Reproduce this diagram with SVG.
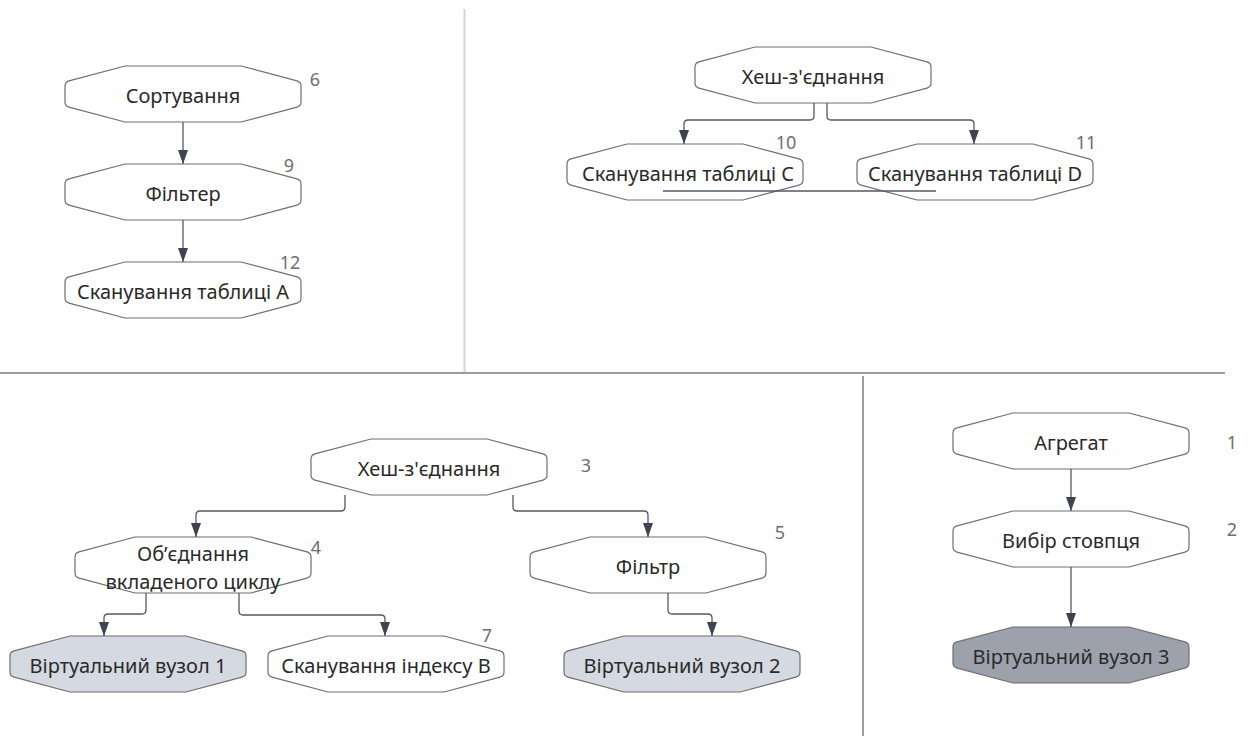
<svg xmlns="http://www.w3.org/2000/svg" width="1250" height="736" viewBox="0 0 1250 736">
  <style>
    .node { fill: #ffffff; stroke: #6f6f6f; stroke-width: 1.2; }
    .virt { fill: #d5d9e1; stroke: #6f6f6f; stroke-width: 1.2; }
    .virt-dark { fill: #9ca1ab; stroke: #6f6f6f; stroke-width: 1.2; }
    .label { font-family: "Noto Sans", "Open Sans", sans-serif; font-size: 20px; fill: #2a2a2a; text-anchor: middle; dominant-baseline: central; }
    .num { font-family: "Noto Sans", "Open Sans", sans-serif; font-size: 18px; fill: #6e6e6e; text-anchor: middle; dominant-baseline: central; }
    .edge { fill: none; stroke: #555a62; stroke-width: 1.3; marker-end: url(#arrow); }
    .plain { fill: none; stroke: #555a62; stroke-width: 1.3; }
    .divider-light { stroke: #d4d4d4; stroke-width: 2; }
    .divider { stroke: #9c9c9c; stroke-width: 2; }
  </style>
  <defs>
    <!-- elongated octagon used for every operator node (236 x 56) -->
    <path id="oct" d="M60,0 L176,0 L232,14.9 Q236,16 236,20 L236,36 Q236,40 232,41.1 L176,56 L60,56 L4,41.1 Q0,40 0,36 L0,20 Q0,16 4,14.9 Z"/>
    <marker id="arrow" markerUnits="userSpaceOnUse" viewBox="0 0 14 10" refX="14" refY="5" markerWidth="14" markerHeight="10" orient="auto">
      <path d="M0,0 L14,5 L0,10 Z" fill="#3d434f"/>
    </marker>
  </defs>

  <!-- panel dividers -->
  <g id="dividers">
    <line class="divider-light" x1="464.5" y1="9" x2="464.5" y2="372"/>
    <line class="divider" x1="0" y1="373" x2="1225" y2="373"/>
    <line class="divider" x1="863" y1="376" x2="863" y2="736"/>
  </g>

  <!-- plan 1 -->
  <g id="n-sort">
    <use href="#oct" class="node" x="65" y="66"/>
    <text class="label" x="183" y="95">Сортування</text>
    <text class="num" x="315" y="79">6</text>
  </g>
  <g id="n-filter-a">
    <use href="#oct" class="node" x="65" y="164"/>
    <text class="label" x="183" y="193">Фільтер</text>
    <text class="num" x="289" y="165">9</text>
  </g>
  <g id="n-scan-a">
    <use href="#oct" class="node" x="65" y="262"/>
    <text class="label" x="183" y="291">Сканування таблиці А</text>
    <text class="num" x="290" y="262">12</text>
  </g>

  <!-- plan 2 -->
  <g id="n-hash-top">
    <use href="#oct" class="node" x="695" y="47"/>
    <text class="label" x="813" y="76">Хеш-з'єднання</text>
  </g>
  <g id="n-scan-c">
    <use href="#oct" class="node" x="567" y="144"/>
    <text class="label" x="688" y="173">Сканування таблиці С</text>
    <text class="num" x="786" y="142">10</text>
  </g>
  <g id="n-scan-d">
    <use href="#oct" class="node" x="857" y="144"/>
    <text class="label" x="975" y="173">Сканування таблиці D</text>
    <text class="num" x="1086" y="142">11</text>
  </g>

  <!-- plan 3 -->
  <g id="n-hash-bottom">
    <use href="#oct" class="node" x="311" y="439"/>
    <text class="label" x="429" y="468">Хеш-з'єднання</text>
    <text class="num" x="586" y="465">3</text>
  </g>
  <g id="n-nested-loop">
    <use href="#oct" class="node" x="75" y="537"/>
    <text class="label" x="193" y="553">Об’єднання</text>
    <text class="label" x="193" y="581">вкладеного циклу</text>
    <text class="num" x="316" y="547">4</text>
  </g>
  <g id="n-filter-b">
    <use href="#oct" class="node" x="530" y="537"/>
    <text class="label" x="648" y="566">Фільтр</text>
    <text class="num" x="780" y="532">5</text>
  </g>
  <g id="n-virtual-1">
    <use href="#oct" class="virt" x="10" y="636"/>
    <text class="label" x="128" y="665">Віртуальний вузол 1</text>
  </g>
  <g id="n-index-b">
    <use href="#oct" class="node" x="268" y="636"/>
    <text class="label" x="386" y="665">Сканування індексу B</text>
    <text class="num" x="487" y="635">7</text>
  </g>
  <g id="n-virtual-2">
    <use href="#oct" class="virt" x="564" y="636"/>
    <text class="label" x="682" y="665">Віртуальний вузол 2</text>
  </g>

  <!-- plan 4 -->
  <g id="n-aggregate">
    <use href="#oct" class="node" x="953" y="413"/>
    <text class="label" x="1071" y="442">Агрегат</text>
    <text class="num" x="1232" y="442">1</text>
  </g>
  <g id="n-column-select">
    <use href="#oct" class="node" x="953" y="511"/>
    <text class="label" x="1071" y="540">Вибір стовпця</text>
    <text class="num" x="1232" y="529">2</text>
  </g>
  <g id="n-virtual-3">
    <use href="#oct" class="virt-dark" x="953" y="627"/>
    <text class="label" x="1071" y="656">Віртуальний вузол 3</text>
  </g>

  <!-- connectors, drawn over the nodes -->
  <g id="connectors">
    <path class="edge" d="M183,122 V164"/>
    <path class="edge" d="M183,220 V262"/>
    <path class="edge" d="M814,103 V116 Q814,120 810,120 H688 Q684,120 684,124 V144"/>
    <path class="edge" d="M827,103 V116 Q827,120 831,120 H970 Q974,120 974,124 V144"/>
    <path class="plain" d="M663,191 H936"/>
    <path class="edge" d="M345,495 V507 Q345,511 341,511 H200 Q196,511 196,515 V537"/>
    <path class="edge" d="M513,495 V507 Q513,511 517,511 H644 Q648,511 648,515 V537"/>
    <path class="edge" d="M146,593 V610 Q146,614 142,614 H108 Q104,614 104,618 V636"/>
    <path class="edge" d="M239,593 V611 Q239,615 243,615 H381 Q385,615 385,619 V636"/>
    <path class="edge" d="M668,593 V610 Q668,614 672,614 H708 Q712,614 712,618 V636"/>
    <path class="edge" d="M1071,469 V511"/>
    <path class="edge" d="M1071,567 V627"/>
  </g>
</svg>
